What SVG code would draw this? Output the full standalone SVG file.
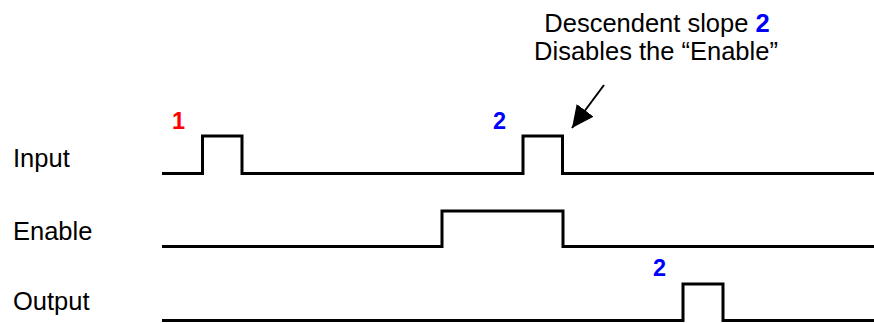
<svg xmlns="http://www.w3.org/2000/svg" width="874" height="323" viewBox="0 0 874 323">
  <defs>
    <style>
      .label { font-family: "Liberation Sans", Arial, sans-serif; font-size: 25.5px; fill: #000; }
      .num { font-family: "Liberation Sans", Arial, sans-serif; font-size: 23.5px; font-weight: bold; }
      .red { fill: #ff0000; }
      .blue { fill: #0000ff; }
      .wave { fill: none; stroke: #000; stroke-width: 3; stroke-linejoin: miter; }
      .arrow { stroke: #000; stroke-width: 2; fill: none; }
    </style>
    <marker id="arrowhead" markerUnits="userSpaceOnUse" markerWidth="23" markerHeight="22" refX="22" refY="10.5" orient="auto">
      <path d="M0,0 L22,10.5 L0,21 z" fill="#000"/>
    </marker>
  </defs>
  <rect width="874" height="323" fill="#fff"/>

  <!-- signal names -->
  <g id="label-input"><text class="label" x="13" y="167">Input</text></g>
  <g id="label-enable"><text class="label" x="13" y="240">Enable</text></g>
  <g id="label-output"><text class="label" x="13" y="310">Output</text></g>

  <!-- waveforms -->
  <g id="wave-input">
    <path class="wave" d="M162,173.5 H202.5 V136 H242 V173.5 H523 V136 H562.5 V173.5 H874"/>
    <text class="num red" x="172" y="129">1</text>
    <text class="num blue" x="493" y="129">2</text>
  </g>
  <g id="wave-enable">
    <path class="wave" d="M162,246.5 H442 V211 H563 V246.5 H874"/>
  </g>
  <g id="wave-output">
    <path class="wave" d="M162,320.5 H683 V284 H723 V320.5 H874"/>
    <text class="num blue" x="653" y="276">2</text>
  </g>

  <!-- annotation -->
  <g id="note">
    <text class="label" x="657" y="32" text-anchor="middle">Descendent slope <tspan class="blue" font-weight="bold">2</tspan></text>
    <text class="label" x="656" y="60" text-anchor="middle">Disables the “Enable”</text>
  </g>

  <!-- connectors -->
  <g id="connectors">
    <line class="arrow" x1="604" y1="85" x2="572" y2="128" marker-end="url(#arrowhead)"/>
  </g>
</svg>
